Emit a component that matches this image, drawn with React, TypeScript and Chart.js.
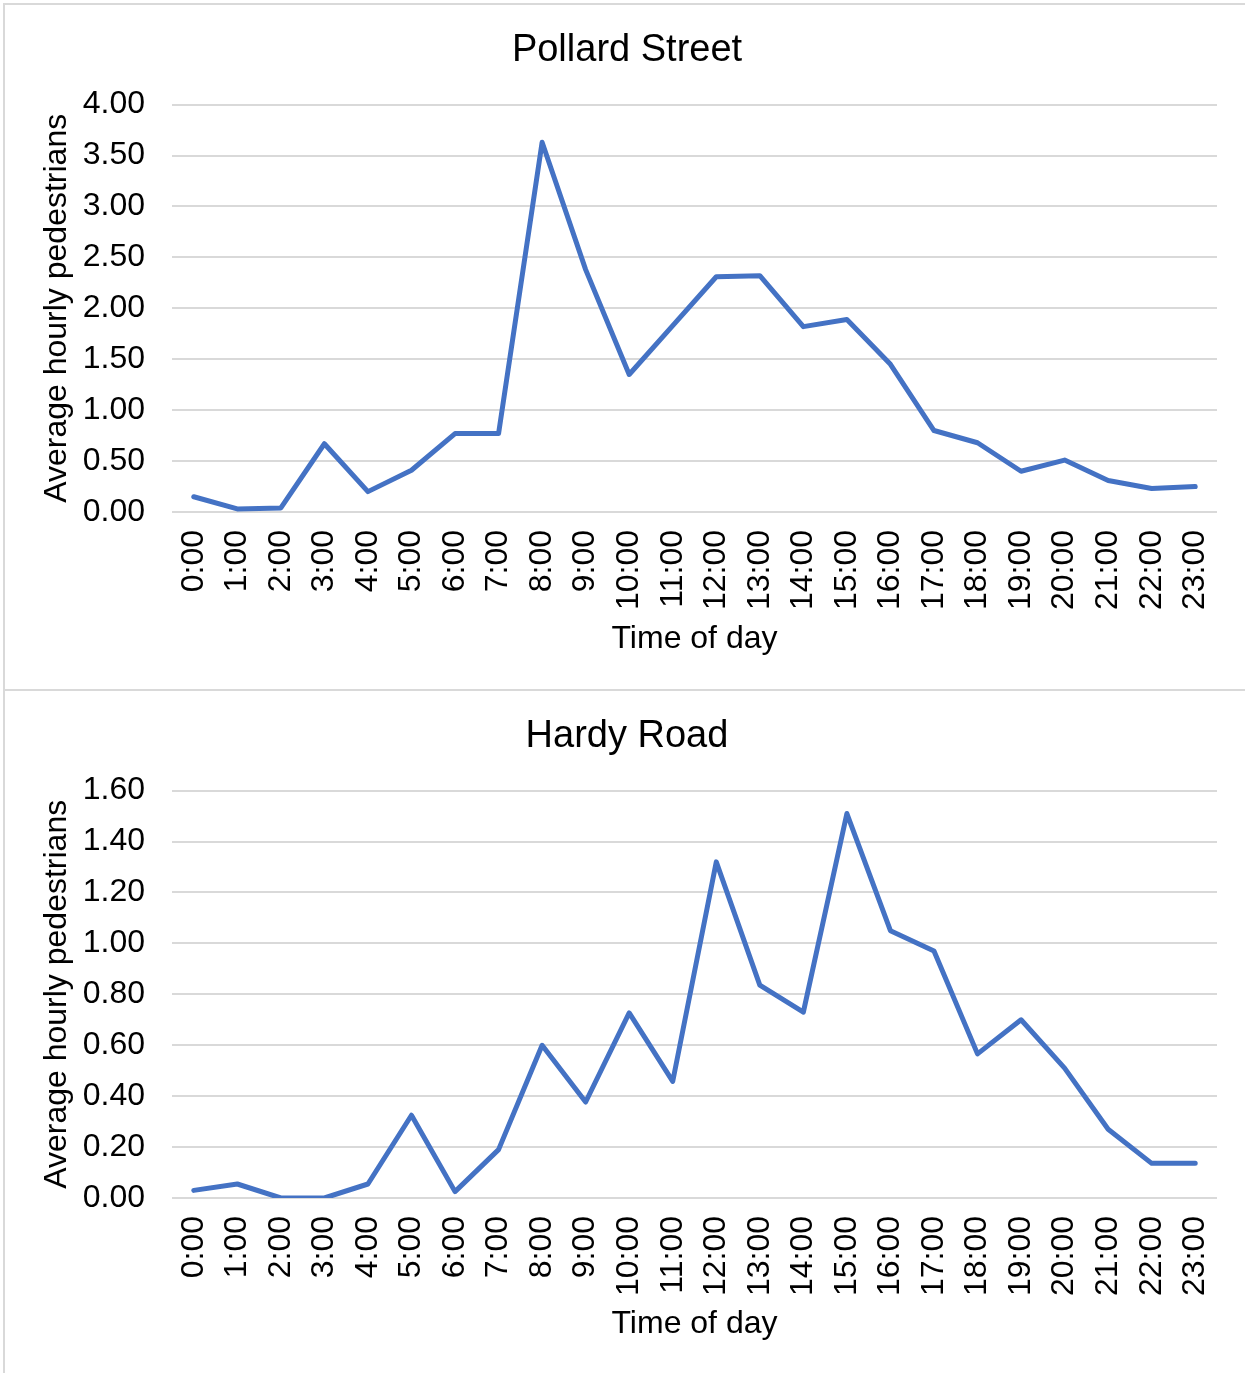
import React, { useEffect, useRef } from "react";
import { Chart, registerables } from "chart.js";

Chart.register(...registerables);

const hours: string[] = [
  "0:00", "1:00", "2:00", "3:00", "4:00", "5:00", "6:00", "7:00", "8:00", "9:00", "10:00", "11:00",
  "12:00", "13:00", "14:00", "15:00", "16:00", "17:00", "18:00", "19:00", "20:00", "21:00", "22:00", "23:00",
];

const pollardValues: number[] = [
  0.15, 0.03, 0.04, 0.67, 0.2, 0.41, 0.77, 0.77, 3.63, 2.38, 1.35, 1.83,
  2.31, 2.32, 1.82, 1.89, 1.45, 0.8, 0.68, 0.4, 0.51, 0.31, 0.23, 0.25,
];

const hardyValues: number[] = [
  0.03, 0.055, 0.0, 0.0, 0.055, 0.325, 0.025, 0.19, 0.6, 0.377, 0.727, 0.458,
  1.32, 0.836, 0.73, 1.51, 1.05, 0.97, 0.566, 0.7, 0.51, 0.27, 0.136, 0.136,
];

const pollardTitle = "Pollard Street";
const hardyTitle = "Hardy Road";
const yAxisTitle = "Average hourly pedestrians";
const xAxisTitle = "Time of day";

const FONT = "'Liberation Sans', Arial, sans-serif";

type PanelProps = {
  title: string;
  values: number[];
  yMax: number;
  yStep: number;
  height: number;
  xTitleOffset: number;
};

function Panel({ title, values, yMax, yStep, height, xTitleOffset }: PanelProps) {
  const ref = useRef<HTMLCanvasElement | null>(null);

  useEffect(() => {
    if (!ref.current) return;
    const plotBottom = 507;
    const padLeft = 32;
    const chart = new Chart(ref.current, {
      type: "line",
      data: {
        labels: hours,
        datasets: [
          {
            data: values,
            borderColor: "#4472C4",
            backgroundColor: "#4472C4",
            borderWidth: 5,
            pointRadius: 0,
            pointHoverRadius: 0,
            tension: 0,
            borderJoinStyle: "round",
            borderCapStyle: "round",
          },
        ],
      },
      options: {
        animation: false,
        responsive: false,
        maintainAspectRatio: false,
        layout: { padding: { left: padLeft, right: 28, top: 0, bottom: 0 } },
        plugins: {
          legend: { display: false },
          tooltip: { enabled: false },
          title: {
            display: true,
            text: title,
            color: "#000000",
            font: { family: FONT, size: 38, weight: "normal" },
            padding: { top: 23, bottom: 31 },
          },
        },
        scales: {
          x: {
            type: "category",
            offset: true,
            grid: { display: false, drawTicks: false },
            border: { display: false },
            ticks: {
              autoSkip: false,
              maxRotation: 90,
              minRotation: 90,
              padding: 18,
              color: "#000000",
              font: { family: FONT, size: 32 },
            },
            title: {
              display: true,
              text: xAxisTitle,
              color: "#000000",
              font: { family: FONT, size: 32 },
              padding: { top: 0, bottom: xTitleOffset },
            },
            afterFit: (scale: any) => {
              scale.height = height - plotBottom;
              scale.paddingLeft = 0;
              scale.paddingRight = 0;
            },
          },
          y: {
            min: 0,
            max: yMax,
            grid: { color: "#d9d9d9", lineWidth: 2, drawTicks: false },
            border: { display: false },
            ticks: {
              stepSize: yStep,
              padding: 27,
              color: "#000000",
              font: { family: FONT, size: 32 },
              callback: (v: any) => Number(v).toFixed(2),
            },
            title: {
              display: true,
              text: yAxisTitle,
              color: "#000000",
              font: { family: FONT, size: 32 },
              padding: { top: 1, bottom: 0 },
            },
            afterFit: (scale: any) => {
              scale.width = 167 - padLeft;
            },
          },
        },
      },
    });
    return () => chart.destroy();
  }, [title, values, yMax, yStep, height, xTitleOffset]);

  return (
    <div style={{ width: 1240, height, position: "relative" }}>
      <canvas ref={ref} width={1240} height={height} style={{ width: 1240, height, display: "block" }} />
    </div>
  );
}

export default function App() {
  useEffect(() => {
    document.body.style.margin = "0";
    document.body.style.background = "#ffffff";
  }, []);
  return (
    <div
      style={{
        position: "absolute",
        left: 3,
        top: 3,
        width: 1242,
        height: 1370,
        borderTop: "2px solid #d9d9d9",
        borderLeft: "2px solid #d9d9d9",
        background: "#ffffff",
        overflow: "hidden",
      }}
    >
      <Panel title={pollardTitle} values={pollardValues} yMax={4} yStep={0.5} height={684} xTitleOffset={31} />
      <div style={{ height: 2, width: 1240, background: "#d9d9d9" }} />
      <Panel title={hardyTitle} values={hardyValues} yMax={1.6} yStep={0.2} height={682} xTitleOffset={30} />
    </div>
  );
}
